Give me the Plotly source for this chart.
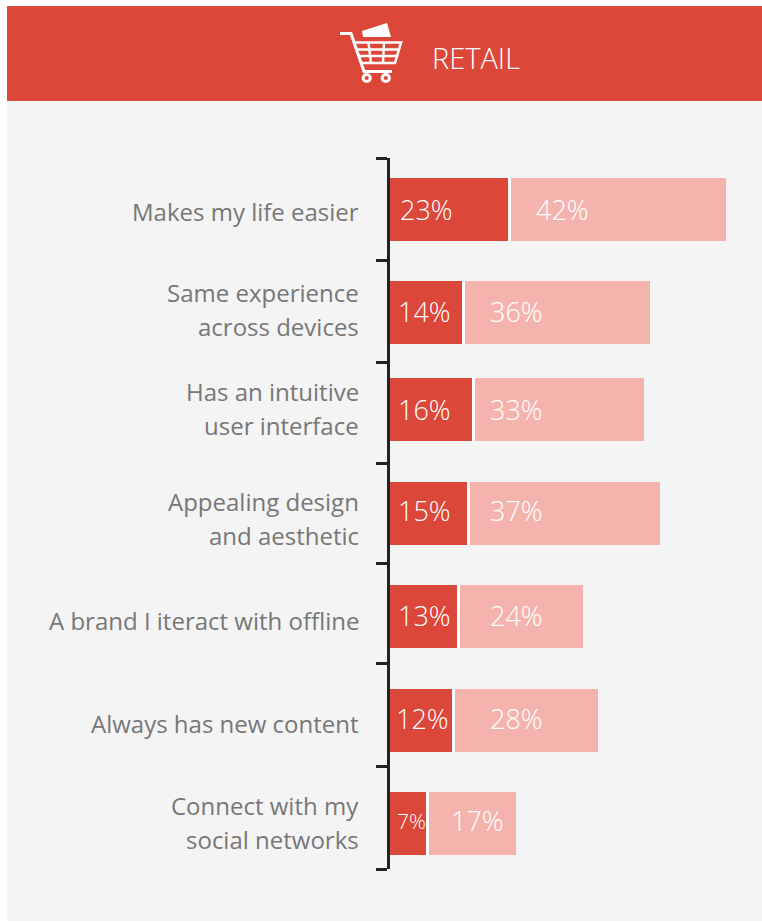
import plotly.graph_objects as go

# Survey results for the retail sector
categories = [
    "Makes my life easier",
    "Same experience<br>across devices",
    "Has an intuitive<br>user interface",
    "Appealing design<br>and aesthetic",
    "A brand I iteract with offline",
    "Always has new content",
    "Connect with my<br>social networks",
]
strong_values = [23, 14, 16, 15, 13, 12, 7]
moderate_values = [42, 36, 33, 37, 24, 28, 17]

# Vertical layout of the rows, in axis units (one unit is about one row)
row_centres = [0.507, 1.521, 2.476, 3.500, 4.514, 5.538, 6.552]
row_ticks = [0, 1.014, 2.018, 3.003, 3.988, 4.973, 5.987, 7]
label_shift = [-2, 3, 1, -5, -4, -3, 1]
value_shift = [0, 1, 0, 3, 1, 2, 3]
strong_label_x = [8, 6, 6, 6, 6, 4, 5]
moderate_label_x = [144, 98, 98, 98, 98, 98, 59]
strong_label_size = [27, 27, 27, 27, 27, 27, 21]

W, H = 762, 922
RED, PINK, PANEL = "#db4739", "#f4b4ad", "#f4f4f4"
GREY = "#777777"
FONT = "Open Sans"
PX_PER_UNIT = 5.13
GAP = 3 / PX_PER_UNIT


def px(x):
    return x / W


def py(y):
    return 1 - y / H


def rect(x0, y0, x1, y1, color):
    return dict(type="rect", xref="paper", yref="paper", x0=px(x0), x1=px(x1),
                y0=py(y0), y1=py(y1), fillcolor=color, line_width=0, layer="below")


def poly(points, fill=None, stroke=None, width=0):
    d = "M" + " L".join(f"{px(a):.5f},{py(b):.5f}" for a, b in points)
    if fill:
        d += " Z"
    return dict(type="path", xref="paper", yref="paper", path=d, fillcolor=fill,
                line=dict(color=stroke or "rgba(0,0,0,0)", width=width), layer="above")


def ring(cx, cy, r, width):
    return dict(type="circle", xref="paper", yref="paper",
                x0=px(cx - r), x1=px(cx + r), y0=py(cy + r), y1=py(cy - r),
                line=dict(color="white", width=width), layer="above")


shapes = [rect(7, 101, W, H - 1, PANEL), rect(7, 6, W, 101, RED)]

# Shopping cart icon in the header
shapes += [
    poly([(340, 33.5), (351, 33.5), (364, 71.5), (392, 71.5)], stroke="white", width=3),
    poly([(362, 31), (387, 23), (391, 37), (363, 37)], fill="white"),
    poly([(354, 42.5), (401, 42.5), (395, 63), (360, 63)], stroke="white", width=2.6),
    poly([(368.5, 42.5), (371, 63)], stroke="white", width=2.4),
    poly([(384, 42.5), (383, 63)], stroke="white", width=2.4),
    poly([(356, 49.5), (399, 49.5)], stroke="white", width=2.4),
    poly([(358, 56), (397, 56)], stroke="white", width=2.4),
    ring(366.7, 78, 3.6, 3),
    ring(385.8, 78, 3.6, 3),
]

annotations = [dict(text="RETAIL", xref="paper", yref="paper", x=px(430), y=py(57.5),
                    xanchor="left", yanchor="middle", showarrow=False,
                    font=dict(family=FONT, size=29, color="white", weight=300))]

for cat, row, shift, a, b, ax, bx, asize, vs in zip(
    categories, row_centres, label_shift, strong_values, moderate_values,
    strong_label_x, moderate_label_x, strong_label_size, value_shift
):
    lines = cat.split("<br>")
    for i, line in enumerate(lines):
        offset = (i - (len(lines) - 1) / 2) * 34
        annotations.append(dict(
            text=line, xref="paper", yref="y", x=px(361), y=row, xanchor="right",
            yanchor="middle", yshift=shift - offset, showarrow=False,
            font=dict(family=FONT, size=24, color=GREY)))
    annotations.append(dict(
        text=f"{a}%", xref="x", yref="y", x=0, y=row, xshift=ax, yshift=vs,
        xanchor="left", yanchor="middle", showarrow=False,
        font=dict(family=FONT, size=asize, color="white", weight=300)))
    annotations.append(dict(
        text=f"{b}%", xref="x", yref="y", x=0, y=row, xshift=bx, yshift=vs,
        xanchor="left", yanchor="middle", showarrow=False,
        font=dict(family=FONT, size=27, color="white", weight=300)))

fig = go.Figure()
bar_style = dict(orientation="h", width=0.62, hoverinfo="skip", marker_line_width=0)
fig.add_bar(y=row_centres, x=strong_values, marker_color=RED, **bar_style)
fig.add_bar(y=row_centres, x=[GAP] * len(row_centres), marker_color="white", **bar_style)
fig.add_bar(y=row_centres, x=moderate_values, marker_color=PINK, **bar_style)

fig.update_layout(
    width=W, height=H, margin=dict(l=0, r=0, t=0, b=0), barmode="stack",
    paper_bgcolor="white", plot_bgcolor="rgba(0,0,0,0)", showlegend=False,
    shapes=shapes, annotations=annotations,
    xaxis=dict(domain=[px(390), 1], range=[0, (W - 390) / PX_PER_UNIT], visible=False),
    yaxis=dict(domain=[py(869), py(158)], range=[7, 0], tickmode="array",
               tickvals=row_ticks, ticktext=[""] * len(row_ticks), ticks="outside",
               ticklen=11, tickwidth=2.5, tickcolor="#222222", showline=True,
               linecolor="#222222", linewidth=3, showgrid=False, zeroline=False),
)

fig.write_html("out.html", config=dict(displayModeBar=False))
